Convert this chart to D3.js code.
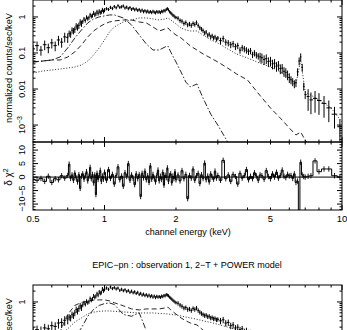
<!DOCTYPE html>
<html>
<head>
<meta charset="utf-8">
<script src="https://cdn.jsdelivr.net/npm/d3@7"></script>
<style>
  body { margin: 0; background: #fff; }
  svg { display: block; font-family: "Liberation Sans", Arial, sans-serif; }
</style>
</head>
<body>
<svg id="chart" width="347" height="330"></svg>
<script>
// channel energies (keV)
const energies = [0.50,0.52,0.54,0.56,0.58,0.60,0.62,0.64,0.66,0.68,0.70,
  0.71,0.72,0.73,0.74,0.75,0.76,0.77,0.78,0.79,0.80,0.81,0.82,0.83,0.84,0.85,0.86,0.87,0.88,0.89,0.90,
  0.91,0.92,0.93,0.94,0.95,0.96,0.97,0.98,0.99,1.00,
  1.02,1.04,1.06,1.08,1.10,1.12,1.14,1.16,1.18,1.20,1.22,1.24,1.26,1.28,1.30,1.32,1.34,1.36,1.38,1.40,
  1.42,1.44,1.46,1.48,1.50,1.52,1.54,1.56,1.58,1.60,1.62,1.64,1.66,1.68,1.70,1.72,1.74,1.76,1.78,1.80,
  1.82,1.84,1.86,1.88,1.90,1.92,1.94,1.96,1.98,2.00,
  2.04,2.08,2.12,2.16,2.20,2.24,2.28,2.32,2.36,2.40,2.44,2.48,2.52,2.56,2.60,2.64,2.68,2.72,2.76,2.80,
  2.84,2.88,2.92,2.96,3.00,
  3.08,3.16,3.24,3.32,3.40,3.48,3.56,3.64,3.72,3.80,3.88,3.96,4.04,4.12,4.20,4.28,4.36,4.44,4.52,
  4.6,4.7,4.8,4.9,5.0,5.1,5.2,5.3,5.4,5.5,5.6,5.7,5.8,5.9,6.0,
  6.1,6.2,6.3,6.4,6.5,6.6,6.7,6.8,6.9,7.0,
  7.2,7.4,7.7,8.0,8.4,8.8,9.3,9.8];

// upper panel: normalized counts/sec/keV
const rate1 = [0.13,0.16,0.12,0.17,0.14,0.19,0.16,0.23,0.20,0.28,0.27,
  0.35,0.33,0.43,0.41,0.45,0.56,0.52,0.58,0.72,0.66,0.74,0.88,0.80,0.98,0.90,0.96,1.15,1.04,1.10,1.30,
  1.15,1.22,1.40,1.25,1.45,1.32,1.38,1.58,1.42,1.55,
  1.70,1.62,1.85,1.72,1.95,1.80,2.05,1.85,1.92,2.02,1.78,1.88,1.70,1.82,1.62,1.72,1.58,1.66,1.52,1.60,
  1.45,1.55,1.40,1.50,1.38,1.46,1.34,1.42,1.32,1.44,1.36,1.30,1.42,1.35,1.40,1.32,1.45,1.40,1.52,1.48,
  1.62,1.70,1.58,1.40,1.30,1.22,1.12,1.08,1.00,0.96,
  0.92,0.80,0.76,0.66,0.70,0.60,0.64,0.58,0.66,0.62,0.70,0.58,0.50,0.46,0.42,0.36,0.38,0.31,0.33,0.28,
  0.30,0.26,0.28,0.24,0.26,
  0.22,0.25,0.20,0.19,0.17,0.18,0.15,0.16,0.12,0.14,0.13,0.12,0.11,0.115,0.09,0.10,0.088,0.082,0.078,
  0.074,0.066,0.070,0.058,0.060,0.050,0.052,0.043,0.046,0.037,0.038,0.031,0.029,0.025,0.021,
  0.018,0.016,0.014,0.015,0.030,0.060,0.078,0.040,0.012,0.007,
  0.0062,0.0050,0.0055,0.0048,0.0040,0.0030,0.0020,0.0009];

// residuals (delta chi^2 panel)
const resid1 = [-0.8,-1.2,-0.5,-1.6,0.3,-2.0,-0.6,-1.0,0.5,-0.4,0.6,
  4.8,-0.5,0.8,-1.2,1.5,-0.3,-1.8,0.9,-4.2,0.4,1.2,-0.8,0.5,2.0,-1.4,0.3,3.6,-0.6,1.0,-2.2,
  0.8,-6.5,1.4,-0.9,0.6,2.5,-1.6,0.4,-0.8,1.8,
  -1.2,2.8,-0.5,1.0,-2.6,0.6,3.8,-1.0,0.4,-3.4,1.6,0.2,5.0,-1.2,0.8,-0.4,-2.8,1.2,-0.6,0.9,
  -7.2,1.4,-0.3,2.2,-1.0,0.5,-2.0,4.2,-0.8,1.0,-0.4,-1.8,0.6,2.6,-1.4,0.3,-0.9,1.8,-3.0,0.7,
  -0.2,3.4,-1.6,0.5,1.2,-2.2,0.4,-0.6,2.0,-1.0,
  0.8,-1.4,2.4,-0.6,1.0,-8.0,0.6,-0.4,3.0,-1.2,0.5,1.4,-2.4,0.9,-0.5,5.2,-1.0,0.4,-1.8,1.2,
  0.0,-0.8,2.2,-0.4,0.6,
  -1.2,6.2,-0.6,0.8,-1.6,1.0,0.2,-2.6,1.4,-0.4,0.6,2.8,-1.0,0.3,-0.6,1.6,0.4,-1.2,0.8,
  0.5,-0.8,2.4,0.2,-0.6,1.2,0.0,1.8,-0.4,0.6,2.6,0.3,-0.2,1.0,0.4,
  0.6,-0.5,1.2,-2.0,-1.5,-13,5.5,0.8,0.2,0.0,
  0.3,0.5,6.0,2.0,3.0,3.0,0.5,0.0];

// lower spectrum: EPIC-pn, observation 1, 2-T + POWER model
const rate2 = [0.15,0.17,0.16,0.19,0.18,0.22,0.21,0.26,0.27,0.31,0.34,
  0.38,0.36,0.45,0.42,0.50,0.62,0.56,0.66,0.78,0.70,0.82,0.95,0.86,1.05,0.96,1.02,1.25,1.12,1.22,1.48,
  1.35,1.45,1.70,1.55,1.90,1.75,1.85,2.30,2.05,2.25,
  2.45,2.25,2.60,2.35,2.50,2.30,2.42,2.10,2.25,2.05,2.18,1.95,2.08,1.85,2.00,1.80,1.92,1.72,1.85,1.62,
  1.74,1.55,1.66,1.50,1.60,1.45,1.55,1.40,1.50,1.36,1.46,1.32,1.44,1.36,1.42,1.34,1.46,1.40,1.52,1.48,
  1.60,1.55,1.48,1.36,1.28,1.20,1.12,1.06,1.00,0.95,
  0.92,0.82,0.76,0.68,0.70,0.62,0.64,0.58,0.66,0.62,0.68,0.58,0.52,0.48,0.45,0.42,0.43,0.39,0.40,0.36,
  0.37,0.34,0.35,0.32,0.33,
  0.30,0.32,0.26,0.27,0.22,0.23,0.19,0.20,0.17,0.18,0.15,0.16,0.14,0.14,0.12,0.13,0.11,0.11,0.10,
  0.095,0.085,0.088,0.076,0.078,0.066,0.068,0.058,0.060,0.050,0.050,0.042,0.040,0.035,0.031,
  0.027,0.024,0.022,0.022,0.040,0.075,0.095,0.050,0.016,0.010,
  0.009,0.0075,0.008,0.007,0.006,0.0045,0.003,0.0015];

// fractional error of a channel, by energy band (upper band edge in keV)
const errEdges = [0.70, 0.80, 1.00, 2.00, 3.00, 4.50, 6.00, 7.00, 10.0];
const errFrac  = [0.30, 0.20, 0.13, 0.10, 0.14, 0.20, 0.30, 0.25, 0.60];

// model components, on their own energy grid
const compE = [0.5,0.55,0.6,0.65,0.7,0.75,0.8,0.85,0.9,0.95,1.0,1.05,1.1,1.2,1.3,1.4,1.5,1.6,1.7,1.8,1.85,1.9,
  2.0,2.1,2.2,2.3,2.45,2.6,2.8,3.0,3.3,3.6,4.0,4.5,5.0,5.5,6.0,6.4,6.7,7.0,7.5,8,9,10];
const hot1 = [0.0278,0.0316,0.0337,0.0359,0.0383,0.0408,0.0464,0.0599,0.088,0.138,0.230,0.383,0.527,0.726,0.825,0.938,0.938,0.880,0.825,0.880,0.938,0.825,
  0.639,0.495,0.435,0.408,0.408,0.316,0.230,0.190,0.129,0.094,0.0726,0.0527,0.0408,0.0297,0.0202,0.0138,0.0639,0.00825,0.0064,0.00495,0.00297,0.00121];
const warm1 = [0.0562,0.0599,0.0639,0.0639,0.0774,0.107,0.167,0.278,0.408,0.527,0.639,0.726,0.774,0.825,0.825,0.726,0.681,0.527,0.408,0.464,0.495,0.408,
  0.316,0.261,0.202,0.156,0.121,0.094,0.0726,0.0562,0.0383,0.0261,0.0178,0.0068,0.00297,0.00156,0.00083,0.00053,0.00064,0.00038,0.00023,0.000147,0.00006,0.00003];
const cool1 = [0.0562,0.0599,0.0639,0.0774,0.138,0.261,0.435,0.681,0.88,1.0,1.07,1.136,1.136,0.938,0.599,0.316,0.178,0.121,0.121,0.147,0.156,0.107,
  0.0562,0.0297,0.0156,0.0114,0.0138,0.0056,0.00202,0.001,0.00034,0.000121,0.00004,0.00002,0.00001,0.00001,0.00001,0.00001,0.00001,0.00001,0.00001,0.00001,0.00001,0.00001];
const warm2 = [0.02,0.03,0.06,0.15,0.45,0.80,0.97,1.05,1.12,1.14,1.14,1.07,0.95,0.78,0.64,0.6,0.64,0.64,0.64,0.68,0.72,0.6,
  0.46,0.36,0.3,0.26,0.23,0.165,0.12,0.09,0.06,0.04,0.025,0.014,0.008,0.005,0.003,0.002,0.0025,0.0012,0.0007,0.0004,0.0002,0.0001];
const cool2 = [0.005,0.008,0.015,0.03,0.06,0.11,0.19,0.40,0.62,0.80,0.90,0.94,0.85,0.45,0.40,0.50,0.16,0.08,0.06,0.05,0.055,0.04,
  0.02,0.01,0.005,0.003,0.003,0.0005,0.0005,0.0005,0.0005,0.0005,0.0005,0.0005,0.0005,0.0005,0.0005,0.0005,0.0005,0.0005,0.0005,0.0005,0.0005,0.0005];
const power2 = [0.064,0.08,0.10,0.121,0.18,0.278,0.36,0.464,0.52,0.55,0.562,0.562,0.55,0.527,0.51,0.495,0.495,0.495,0.48,0.47,0.464,0.45,
  0.435,0.41,0.38,0.36,0.33,0.30,0.27,0.24,0.2,0.17,0.14,0.11,0.09,0.075,0.063,0.056,0.052,0.048,0.042,0.037,0.03,0.024];

const energyLabels = [0.5, 1, 2, 5, 10];
const logLabels = [1, 0.1, 0.01, 0.001];
const residLabels = [10, 5, 0, -5, -10];

const left = 33, right = 342;
const svg = d3.select("#chart");

const x = d3.scaleLog().domain([0.5, 10]).range([left, right]);
const xMinor = [0.6,0.7,0.8,0.9,2,3,4,5,6,7,8,9];
const xMajor = [1, 10];

function errorOf(e) {
  return errFrac[Math.min(d3.bisectLeft(errEdges, e), errFrac.length - 1)];
}

function logLabel(sel, v) {
  if (v >= 0.01) { sel.text(v); return; }
  sel.text("10");
  sel.append("tspan").attr("dy", -3.5).attr("font-size", 7).text("\u2212" + Math.round(-Math.log10(v)));
}

function frame(g, y0, y1) {
  g.append("rect").attr("x", left).attr("y", y0).attr("width", right - left).attr("height", y1 - y0)
    .attr("fill", "none").attr("stroke", "#000").attr("stroke-width", 1);
  // energy ticks on both edges, pointing inward
  xMinor.forEach(e => {
    g.append("line").attr("x1", x(e)).attr("x2", x(e)).attr("y1", y1).attr("y2", y1 - 2.5).attr("stroke", "#000");
    g.append("line").attr("x1", x(e)).attr("x2", x(e)).attr("y1", y0).attr("y2", y0 + 2.5).attr("stroke", "#000");
  });
  xMajor.forEach(e => {
    g.append("line").attr("x1", x(e)).attr("x2", x(e)).attr("y1", y1).attr("y2", y1 - 5).attr("stroke", "#000");
    g.append("line").attr("x1", x(e)).attr("x2", x(e)).attr("y1", y0).attr("y2", y0 + 5).attr("stroke", "#000");
  });
}

function yTicks(g, ticks, scale, lenFor) {
  ticks.forEach(t => {
    const py = scale(t), len = lenFor(t);
    g.append("line").attr("x1", left).attr("x2", left + len).attr("y1", py).attr("y2", py).attr("stroke", "#000");
    g.append("line").attr("x1", right).attr("x2", right - len).attr("y1", py).attr("y2", py).attr("stroke", "#000");
  });
}

function binEdges(i) {
  const e = energies[i];
  const lo = i > 0 ? Math.sqrt(energies[i - 1] * e) : e * e / Math.sqrt(e * energies[i + 1]);
  const hi = i < energies.length - 1 ? Math.sqrt(energies[i + 1] * e) : e * e / Math.sqrt(e * energies[i - 1]);
  return [lo, hi];
}

function drawSpectrum(top, rate, resid, comps, clipId) {
  const bottomSpec = top + 142;
  const y = d3.scaleLog().domain([Math.pow(10, -3.47), Math.pow(10, 0.47)]).range([bottomSpec, top]);
  const g = svg.append("g");

  g.append("clipPath").attr("id", clipId).append("rect")
    .attr("x", left).attr("y", top).attr("width", right - left).attr("height", 142);

  const logTicks = [];
  for (let p = -4; p <= 0; p++) for (let m = 1; m <= 9; m++) {
    const v = m * Math.pow(10, p);
    if (v >= y.domain()[0] && v <= y.domain()[1]) logTicks.push(v);
  }
  yTicks(g, logTicks, y, v => Math.abs(Math.log10(v) - Math.round(Math.log10(v))) < 1e-6 ? 5 : 2.5);
  frame(g, top, bottomSpec);

  logLabels.forEach(v => {
    const t = g.append("text").attr("transform", `translate(25,${y(v)}) rotate(-90)`)
      .attr("text-anchor", "middle").attr("font-size", 9);
    logLabel(t, v);
  });
  g.append("text").attr("transform", `translate(12,${top + 68}) rotate(-90)`)
    .attr("text-anchor", "middle").attr("font-size", 9.2).text("normalized counts/sec/keV");

  const plot = g.append("g").attr("clip-path", `url(#${clipId})`);

  // model components
  const line = d3.line().x(d => x(d[0])).y(d => y(d[1]));
  comps.forEach(c => {
    plot.append("path").datum(compE.map((e, i) => [e, c.values[i]]))
      .attr("d", line).attr("fill", "none").attr("stroke", "#000").attr("stroke-width", 0.85)
      .attr("stroke-dasharray", c.dash);
  });

  // data crosses
  energies.forEach((e, i) => {
    const [lo, hi] = binEdges(i);
    const v = rate[i], dv = v * errorOf(e);
    plot.append("line").attr("x1", x(lo)).attr("x2", x(hi)).attr("y1", y(v)).attr("y2", y(v))
      .attr("stroke", "#000").attr("stroke-width", 1);
    plot.append("line").attr("x1", x(e)).attr("x2", x(e)).attr("y1", y(Math.max(v - dv, 1e-5))).attr("y2", y(v + dv))
      .attr("stroke", "#000").attr("stroke-width", 1);
  });

  if (!resid) return;

  // delta chi^2 panel
  const rTop = bottomSpec, rBot = top + 210;
  const yr = d3.scaleLinear().domain([-12.2, 13]).range([rBot, rTop]);
  const rg = svg.append("g");
  rg.append("clipPath").attr("id", clipId + "r").append("rect")
    .attr("x", left).attr("y", rTop).attr("width", right - left).attr("height", rBot - rTop);
  yTicks(rg, d3.range(-12, 14, 1), yr, v => v % 5 === 0 ? 5 : 2.5);
  frame(rg, rTop, rBot);
  residLabels.forEach(v => {
    rg.append("text").attr("transform", `translate(25,${yr(v)}) rotate(-90)`)
      .attr("text-anchor", "middle").attr("font-size", 9).text(v < 0 ? "\u2212" + (-v) : v);
  });
  const lab = rg.append("text").attr("transform", `translate(12,${yr(0)}) rotate(-90)`)
    .attr("text-anchor", "middle").attr("font-size", 10);
  lab.append("tspan").text("\u03b4 \u03c7");
  lab.append("tspan").attr("dy", -4).attr("font-size", 7).text("2");

  const rp = rg.append("g").attr("clip-path", `url(#${clipId}r)`);
  rp.append("line").attr("x1", left).attr("x2", right).attr("y1", yr(0)).attr("y2", yr(0)).attr("stroke", "#000");
  energies.forEach((e, i) => {
    const r = resid[i];
    rp.append("line").attr("x1", x(e)).attr("x2", x(e)).attr("y1", yr(r - 1)).attr("y2", yr(r + 1))
      .attr("stroke", "#000").attr("stroke-width", 0.9);
  });
  const stepLine = d3.line().curve(d3.curveStep).x(d => x(d[0])).y(d => yr(d[1]));
  rp.append("path").datum(energies.map((e, i) => [e, resid[i]])).attr("d", stepLine)
    .attr("fill", "none").attr("stroke", "#000").attr("stroke-width", 1);

  energyLabels.forEach(e => {
    rg.append("text").attr("x", x(e)).attr("y", rBot + 12).attr("text-anchor", "middle")
      .attr("font-size", 9.5).text(e);
  });
  rg.append("text").attr("x", 188).attr("y", rBot + 25).attr("text-anchor", "middle")
    .attr("font-size", 9).text("channel energy (keV)");
}

drawSpectrum(0, rate1, resid1, [
  { values: hot1, dash: "1,1.8" },
  { values: warm1, dash: "5,3" },
  { values: cool1, dash: "6,2,1.5,2" }
], "c1");

svg.append("text").attr("x", 187).attr("y", 268).attr("text-anchor", "middle")
  .attr("font-size", 9).text("EPIC\u2212pn : observation 1, 2\u2212T + POWER model");

drawSpectrum(285, rate2, null, [
  { values: power2, dash: "1,1.8" },
  { values: warm2, dash: "5,3" },
  { values: cool2, dash: "6,2,1.5,2" }
], "c2");
</script>
</body>
</html>
